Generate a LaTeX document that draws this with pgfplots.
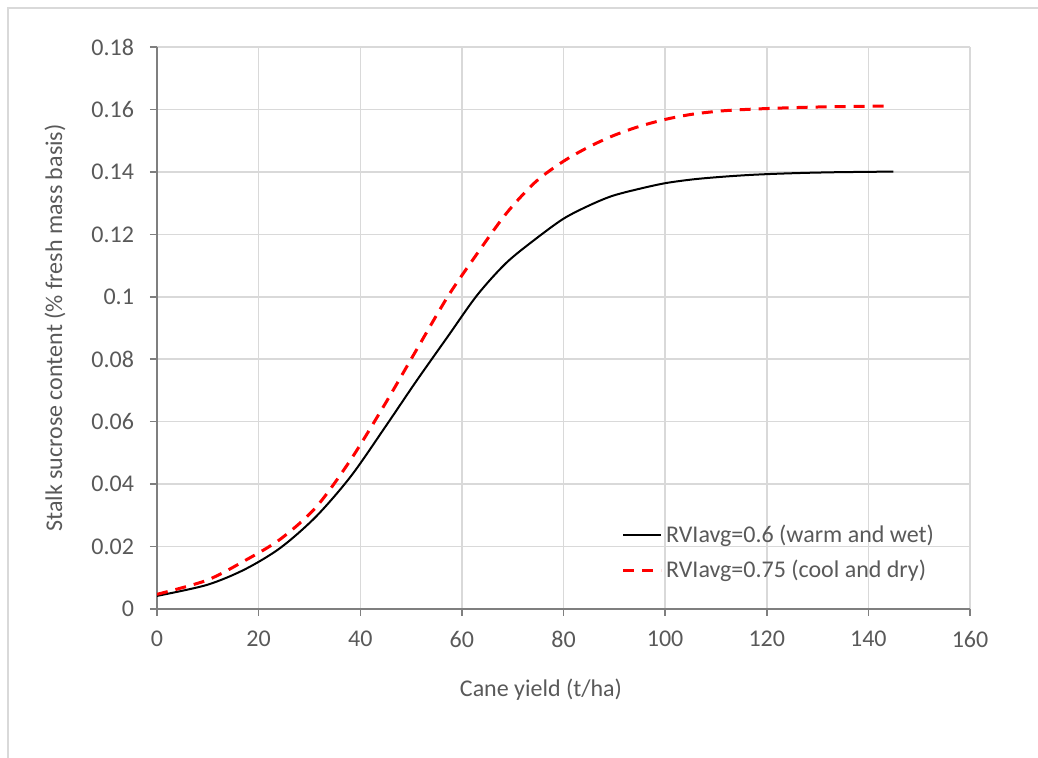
\documentclass[border=0pt]{standalone}
\usepackage{fontspec}
\setmainfont{Carlito}
\usepackage{pgfplots}
\usepackage{pgfplotstable}
\pgfplotsset{compat=1.18}
\definecolor{txtgray}{HTML}{595959}
\definecolor{axgray}{HTML}{7F7F7F}
\definecolor{gridgray}{HTML}{D9D9D9}
\definecolor{framegray}{HTML}{D9D9D9}

\pgfplotstableread{
x y
0 0.0042
9.8 0.0077
17.3 0.0127
24.3 0.0196
31.3 0.0296
38.2 0.0426
45 0.0585
51 0.0729
57.2 0.0872
63 0.1005
68.7 0.1108
74.5 0.1185
80 0.1250
85 0.1292
89.6 0.1323
95 0.1346
100.1 0.1364
105.5 0.1376
111 0.1384
116.5 0.1390
122 0.1394
128 0.1397
134 0.1399
139.5 0.1400
144.9 0.1401
}\tblack

\pgfplotstableread{
x y
0 0.0047
9.8 0.0092
17.3 0.0155
24.3 0.0224
31.3 0.0326
38.2 0.0480
45 0.0660
51 0.0828
57.2 0.1000
63 0.1138
68.8 0.1268
74.5 0.1368
80 0.1434
85 0.1480
89.8 0.1516
95 0.1546
100.3 0.1569
105.5 0.1585
111 0.1595
116 0.1600
122 0.1604
128 0.1607
134 0.1609
139 0.1610
143.8 0.1611
}\tred

\begin{document}
\begin{tikzpicture}[x=1pt,y=1pt]
\path[use as bounding box] (0,0) rectangle (519,379);
\draw[framegray, line width=0.75pt] (4,0) -- (4,375) -- (519,375);
\begin{axis}[
  at={(78.5pt,74.5pt)}, anchor=south west,
  scale only axis, width=406.5pt, height=281pt,
  xmin=0, xmax=160, ymin=0, ymax=0.18,
  xtick={0,20,40,60,80,100,120,140,160},
  ytick={0,0.02,0.04,0.06,0.08,0.1,0.12,0.14,0.16,0.18},
  yticklabels={0,0.02,0.04,0.06,0.08,0.1,0.12,0.14,0.16,0.18},
  scaled y ticks=false,
  axis lines*=left,
  axis line style={axgray, line width=0.75pt, -},
  tick align=outside,
  major tick length=3.5pt,
  tick style={axgray, line width=0.75pt},
  grid=major,
  major grid style={gridgray, line width=0.75pt},
  /pgf/number format/assume math mode=true,
  tick label style={font=\fontsize{12}{14}\selectfont, text=txtgray},
  xticklabel style={yshift=-4pt},
  yticklabel style={xshift=-4.5pt},
  legend style={at={(0.571,0.157)}, anchor=north west, draw=none, fill=none,
    inner sep=0pt, row sep=4pt, font=\fontsize{12}{14}\selectfont, text=txtgray,
    nodes={inner sep=1.75pt}},
  legend cell align=left,
  legend image code/.code={\draw[#1] (0pt,0pt) -- (19pt,0pt);},
]
\addplot[black, line width=1pt, smooth] table[x=x,y=y] {\tblack};
\addlegendentry{RVIavg=0.6 (warm and wet)}
\addplot[red, line width=1.5pt, smooth, dash pattern=on 5.5pt off 4pt] table[x=x,y=y] {\tred};
\addlegendentry{RVIavg=0.75 (cool and dry)}
\end{axis}
\node[anchor=base, text=txtgray, font=\fontsize{12}{14}\selectfont] at (270.5,30.5) {Cane yield (t/ha)};
\node[anchor=base, rotate=90, text=txtgray, font=\fontsize{12}{14}\selectfont] at (31,215) {Stalk sucrose content (\% fresh mass basis)};
\end{tikzpicture}
\end{document}
